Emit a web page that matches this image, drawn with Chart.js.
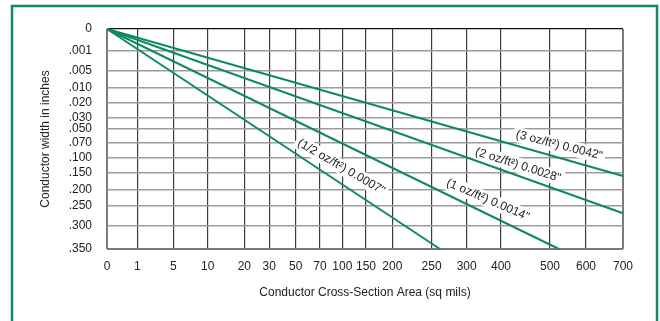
<!DOCTYPE html>
<html>
<head>
<meta charset="utf-8">
<script src="https://cdn.jsdelivr.net/npm/chart.js@4/dist/chart.umd.min.js"></script>
<style>
  html, body { margin: 0; padding: 0; background: #fff; }
  #wrap { width: 660px; height: 321px; }
</style>
</head>
<body>
<div id="wrap"><canvas id="chart" width="660" height="321"></canvas></div>
<script>
// axis ticks (the grid of this nomograph is not evenly spaced)
const areaTicks = [0, 1, 5, 10, 20, 30, 50, 70, 100, 150, 200, 250, 300, 400, 500, 600, 700];
const areaTickLabels = ['0', '1', '5', '10', '20', '30', '50', '70', '100', '150', '200', '250', '300', '400', '500', '600', '700'];
const widthTicks = [0, 0.001, 0.005, 0.010, 0.020, 0.030, 0.050, 0.070, 0.100, 0.150, 0.200, 0.250, 0.300, 0.350];
const widthTickLabels = ['0', '.001', '.005', '.010', '.020', '.030', '.050', '.070', '.100', '.150', '.200', '.250', '.300', '.350'];

// series: cross-section area (sq mils) vs conductor width (inches)
const areaHalfOz = [0, 262];
const widthHalfOz = [0, 0.350];
const areaOneOz = [0, 525];
const widthOneOz = [0, 0.350];
const areaTwoOz = [0, 700];
const widthTwoOz = [0, 0.268];
const areaThreeOz = [0, 700];
const widthThreeOz = [0, 0.160];

const seriesLabels = ['(1/2 oz/ft\u00B2) 0.0007"', '(1 oz/ft\u00B2) 0.0014"', '(2 oz/ft\u00B2) 0.0028"', '(3 oz/ft\u00B2) 0.0042"'];

// where each tick sits along its axis (fraction of the axis length)
const areaTickSpacing = [0, 0.0587, 0.1285, 0.1951, 0.2661, 0.3145, 0.3657, 0.4128, 0.456, 0.502, 0.553, 0.629, 0.697, 0.7636, 0.8585, 0.9283, 1];
const widthTickSpacing = [0, 0.0986, 0.1909, 0.2668, 0.3332, 0.4014, 0.4514, 0.5168, 0.585, 0.6532, 0.7286, 0.8045, 0.8955, 1];

// label placement along each line (fraction of length) and offset above it
const labelAlong = [0.68, 0.83, 0.79, 0.87];
const labelOffset = [14, 13, 10, 12];

const GREEN = '#0e8a5d';

function pts(xs, ys) {
  return xs.map((x, i) => ({ x: x, y: ys[i] }));
}

function interp(v, from, to) {
  if (v <= from[0]) return to[0];
  for (let i = 1; i < from.length; i++) {
    if (v <= from[i]) {
      const t = (v - from[i - 1]) / (from[i] - from[i - 1]);
      return to[i - 1] + t * (to[i] - to[i - 1]);
    }
  }
  return to[to.length - 1];
}

function makeScale(id, values, spacing) {
  return class extends Chart.LinearScale {
    static id = id;
    static defaults = Chart.LinearScale.defaults;
    determineDataLimits() {
      this.min = values[0];
      this.max = values[values.length - 1];
    }
    buildTicks() {
      return values.map(v => ({ value: v }));
    }
    getPixelForValue(value) {
      if (value === null || value === undefined) return NaN;
      return this.getPixelForDecimal(interp(value, values, spacing));
    }
    getValueForPixel(pixel) {
      return interp(this.getDecimalForPixel(pixel), spacing, values);
    }
  };
}

Chart.register(makeScale('areaScale', areaTicks, areaTickSpacing));
Chart.register(makeScale('widthScale', widthTicks, widthTickSpacing));

const framePlugin = {
  id: 'frame',
  beforeDraw(chart) {
    const c = chart.ctx;
    c.save();
    c.fillStyle = '#fff';
    c.fillRect(0, 0, chart.width, chart.height);
    c.strokeStyle = GREEN;
    c.lineWidth = 2.5;
    c.strokeRect(12, 6, 645, 400);
    c.restore();
  }
};

const lineLabelPlugin = {
  id: 'lineLabels',
  beforeDatasetsDraw(chart) {
    const c = chart.ctx;
    c.save();
    c.font = '12px "Liberation Sans", Arial, sans-serif';
    c.textAlign = 'center';
    c.textBaseline = 'middle';
    chart.data.datasets.forEach((ds, i) => {
      const meta = chart.getDatasetMeta(i);
      const p0 = meta.data[0], p1 = meta.data[meta.data.length - 1];
      const ang = Math.atan2(p1.y - p0.y, p1.x - p0.x);
      const t = labelAlong[i];
      const cx = p0.x + (p1.x - p0.x) * t + Math.sin(ang) * labelOffset[i];
      const cy = p0.y + (p1.y - p0.y) * t - Math.cos(ang) * labelOffset[i];
      c.save();
      c.translate(cx, cy);
      c.rotate(ang * 0.9);
      const w = c.measureText(ds.label).width;
      c.fillStyle = '#fff';
      c.fillRect(-w / 2 - 3, -7.5, w + 6, 15);
      c.fillStyle = '#222';
      c.fillText(ds.label, 0, 0);
      c.restore();
    });
    c.restore();
  }
};

const font = { family: '"Liberation Sans", Arial, sans-serif', size: 12 };

new Chart(document.getElementById('chart'), {
  type: 'line',
  data: {
    datasets: [
      { label: seriesLabels[0], data: pts(areaHalfOz, widthHalfOz) },
      { label: seriesLabels[1], data: pts(areaOneOz, widthOneOz) },
      { label: seriesLabels[2], data: pts(areaTwoOz, widthTwoOz) },
      { label: seriesLabels[3], data: pts(areaThreeOz, widthThreeOz) }
    ].map(d => Object.assign(d, {
      borderColor: GREEN,
      borderWidth: 2,
      pointRadius: 0,
      fill: false,
      tension: 0
    }))
  },
  options: {
    responsive: false,
    devicePixelRatio: 1,
    animation: false,
    events: [],
    layout: { padding: { top: 29, right: 37, bottom: 0, left: 0 } },
    plugins: {
      legend: { display: false },
      tooltip: { enabled: false }
    },
    scales: {
      x: {
        type: 'areaScale',
        position: 'bottom',
        afterFit(scale) { scale.height = 72; },
        border: { display: false },
        grid: {
          drawTicks: false,
          color: ctx => (ctx.index === 0 || ctx.index === areaTicks.length - 1) ? '#7a7a7a' : '#3c3c3c',
          lineWidth: ctx => (ctx.index === 0 || ctx.index === areaTicks.length - 1) ? 2 : 1.2
        },
        ticks: {
          autoSkip: false,
          maxRotation: 0,
          padding: 10,
          color: '#222',
          font: font,
          callback: (v, i) => areaTickLabels[i]
        },
        title: {
          display: true,
          text: 'Conductor Cross-Section Area (sq mils)',
          color: '#222',
          font: font,
          padding: { top: 0, bottom: 21 }
        }
      },
      y: {
        type: 'widthScale',
        position: 'left',
        reverse: true,
        afterFit(scale) { scale.width = 107; },
        border: { display: false },
        grid: {
          drawTicks: false,
          color: ctx => ctx.index === 0 ? '#111' : (ctx.index === widthTicks.length - 1 ? '#7a7a7a' : '#9c9c9c'),
          lineWidth: ctx => ctx.index === 0 ? 1.3 : (ctx.index === widthTicks.length - 1 ? 2 : 1.5)
        },
        ticks: {
          autoSkip: false,
          padding: 15,
          color: '#222',
          font: font,
          callback: (v, i) => widthTickLabels[i]
        },
        title: {
          display: true,
          text: 'Conductor width in inches',
          color: '#222',
          font: font,
          padding: { top: 38, bottom: 0 }
        }
      }
    }
  },
  plugins: [framePlugin, lineLabelPlugin]
});
</script>
</body>
</html>
